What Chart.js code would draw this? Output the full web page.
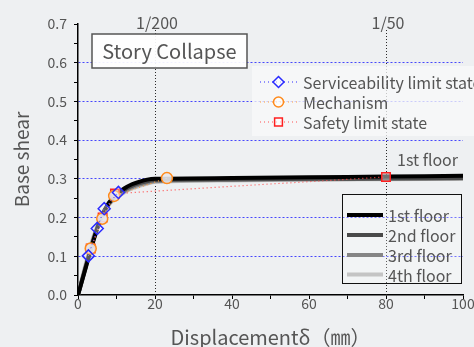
<!DOCTYPE html>
<html>
<head>
<meta charset="utf-8">
<script src="https://cdn.jsdelivr.net/npm/chart.js@4.4.1/dist/chart.umd.min.js"></script>
<style>
  html, body { margin: 0; padding: 0; background: #eef0f2; }
  #wrap { width: 474px; height: 347px; }
</style>
</head>
<body>
<div id="wrap"><canvas id="chart" width="474" height="347"></canvas></div>
<script>
// displacement (mm) and base shear for each floor
var disp   = [0, 2, 4, 6, 8, 10, 12, 14, 16, 18, 20, 40, 60, 80, 100];
var floor1 = [0, 0.07, 0.14, 0.20, 0.238, 0.260, 0.275, 0.286, 0.293, 0.298, 0.300, 0.302, 0.304, 0.306, 0.308];
var floor2 = [0, 0.072, 0.142, 0.199, 0.236, 0.258, 0.272, 0.282, 0.289, 0.294, 0.297, 0.299, 0.300, 0.301, 0.302];
var floor3 = [0, 0.075, 0.145, 0.200, 0.235, 0.255, 0.268, 0.278, 0.285, 0.290, 0.294, 0.297, 0.299, 0.300, 0.301];
var floor4 = [0, 0.080, 0.150, 0.200, 0.233, 0.252, 0.265, 0.275, 0.282, 0.288, 0.292, 0.296, 0.298, 0.299, 0.300];

// limit-state points
var svcX  = [2.7, 5.0, 6.8, 10.5];
var svcY  = [0.101, 0.172, 0.223, 0.265];
var mechX = [3.3, 6.3, 9.4, 23.1];
var mechY = [0.120, 0.197, 0.256, 0.302];
var safeX = [3.3, 6.4, 9.6, 80];
var safeY = [0.120, 0.200, 0.262, 0.305];

// drift angle markers along the top
var driftVals   = [20, 80];
var driftLabels = ['1/200', '1/50'];

var floorNames = ['1st floor', '2nd floor', '3rd floor', '4th floor'];
var floorColors = ['#000000', '#4a4a4a', '#858585', '#c4c4c4'];
var stateNames = ['Serviceability limit state', 'Mechanism', 'Safety limit state'];

function pts(xs, ys) { return xs.map(function (x, i) { return {x: x, y: ys[i]}; }); }

var FONT = "'Noto Sans CJK JP', 'Noto Sans', sans-serif";
var TXT = '#555555';

var stateSets = [
  { label: stateNames[0], data: pts(svcX, svcY), showLine: true, borderColor: '#2a2aff', borderWidth: 1,
    borderDash: [1, 3], pointStyle: 'rectRot', pointRadius: 6, pointBorderWidth: 1.5,
    pointBorderColor: '#2a2aff', pointBackgroundColor: 'rgba(255,255,255,0.35)' },
  { label: stateNames[1], data: pts(mechX, mechY), showLine: true, borderColor: '#ffa040', borderWidth: 1.2,
    borderDash: [1, 3], pointStyle: 'circle', pointRadius: 5.5, pointBorderWidth: 1.5,
    pointBorderColor: '#ff8a1c', pointBackgroundColor: 'rgba(232,232,236,0.9)' },
  { label: stateNames[2], data: pts(safeX, safeY), showLine: true, borderColor: '#ff5050', borderWidth: 1.2,
    borderDash: [1, 3], pointStyle: 'rect', pointRadius: 6, pointBorderWidth: 1.5,
    pointBorderColor: '#ff2020', pointBackgroundColor: 'rgba(190,190,190,0.6)' }
];

var floorData = [floor1, floor2, floor3, floor4];
var floorSets = floorData.map(function (ys, i) {
  return { label: floorNames[i], data: pts(disp, ys), showLine: true, borderColor: floorColors[i], borderWidth: 4,
    pointRadius: 0, cubicInterpolationMode: 'monotone', fill: false };
});

// drift-angle guide lines, legends and annotations
var overlay = {
  id: 'overlay',
  beforeDatasetsDraw: function (chart) {
    var ctx = chart.ctx, a = chart.chartArea, sx = chart.scales.x;
    ctx.save();
    ctx.fillStyle = '#2a2a2a';
    driftVals.forEach(function (v) {
      var px = Math.round(sx.getPixelForValue(v));
      for (var yy = Math.round(a.top) + 6; yy < a.bottom; yy += 3) {
        ctx.fillRect(px, yy, 1, 1);
      }
    });
    ctx.fillStyle = TXT;
    ctx.font = '16px ' + FONT;
    ctx.textAlign = 'center';
    ctx.textBaseline = 'middle';
    driftVals.forEach(function (v, i) {
      ctx.fillText(driftLabels[i], sx.getPixelForValue(v) + 2, 23);
    });
    ctx.restore();
  },
  afterDatasetsDraw: function (chart) {
    var ctx = chart.ctx;
    ctx.save();
    ctx.textBaseline = 'middle';

    // title box
    ctx.fillStyle = 'rgba(255,255,255,0.92)';
    ctx.fillRect(92, 34, 155, 34);
    ctx.strokeStyle = '#555';
    ctx.lineWidth = 1.5;
    ctx.strokeRect(92, 34, 155, 34);
    ctx.fillStyle = TXT;
    ctx.font = '20px ' + FONT;
    ctx.textAlign = 'center';
    ctx.fillText('Story Collapse', 169.5, 51.5);

    // limit state legend
    ctx.fillStyle = 'rgba(248,249,250,0.75)';
    ctx.fillRect(252, 66, 222, 70);
    ctx.textAlign = 'left';
    ctx.font = '16px ' + FONT;
    var rows = [82, 102, 122];
    stateSets.forEach(function (ds, i) {
      var y = rows[i];
      ctx.save();
      ctx.strokeStyle = ds.borderColor;
      ctx.lineWidth = 1.2;
      ctx.setLineDash([1, 3]);
      ctx.beginPath(); ctx.moveTo(260, y); ctx.lineTo(297, y); ctx.stroke();
      ctx.restore();
      ctx.strokeStyle = ds.pointBorderColor;
      ctx.fillStyle = 'rgba(255,255,255,0.6)';
      ctx.lineWidth = 1.5;
      Chart.helpers.drawPoint(ctx, { pointStyle: ds.pointStyle, radius: ds.pointRadius - 0.5, borderWidth: 1.5 }, 278.5, y);
      ctx.fillStyle = TXT;
      ctx.fillText(ds.label, 303, y + 1);
    });

    // floor label
    ctx.textAlign = 'right';
    ctx.fillText(floorNames[0], 458, 160);

    // floor legend
    ctx.fillStyle = 'rgba(255,255,255,0.25)';
    ctx.fillRect(342, 194, 120, 90);
    ctx.strokeStyle = '#111';
    ctx.lineWidth = 1;
    ctx.strokeRect(342.5, 194.5, 119, 89);
    ctx.textAlign = 'left';
    var frows = [215, 235, 255, 274.5];
    floorSets.forEach(function (ds, i) {
      ctx.strokeStyle = ds.borderColor;
      ctx.lineWidth = 4;
      ctx.beginPath(); ctx.moveTo(347, frows[i]); ctx.lineTo(383, frows[i]); ctx.stroke();
      ctx.fillStyle = TXT;
      ctx.fillText(ds.label, 388, frows[i] + 1);
    });
    ctx.restore();
  }
};

new Chart(document.getElementById('chart'), {
  type: 'scatter',
  data: { datasets: stateSets.concat(floorSets) },
  plugins: [overlay],
  options: {
    responsive: false,
    animation: false,
    layout: { padding: { top: 24, right: 11, bottom: 0, left: 0 } },
    plugins: { legend: { display: false }, tooltip: { enabled: false } },
    scales: {
      x: {
        type: 'linear', position: 'bottom', min: 0, max: 100,
        afterFit: function (s) { s.height = 52; },
        ticks: { stepSize: 10, padding: -4, color: TXT, font: { family: FONT, size: 14 },
          maxRotation: 0, autoSkip: false,
          callback: function (v) { return v % 20 === 0 ? String(v) : ''; } },
        grid: { drawOnChartArea: false, tickColor: '#000', tickLength: 4, tickWidth: 1 },
        border: { color: '#000', width: 1.5 },
        title: { display: true, text: 'Displacementδ（㎜）', color: TXT,
          font: { family: FONT, size: 20 }, padding: { top: 0, bottom: -2 } }
      },
      y: {
        min: 0, max: 0.7,
        afterFit: function (s) { s.width = 78; },
        ticks: { stepSize: 0.05, padding: 7, color: TXT, font: { family: FONT, size: 14 }, autoSkip: false,
          callback: function (v) { return Math.round(v * 100) % 10 === 0 ? v.toFixed(1) : ''; } },
        grid: {
          color: function (c) {
            var k = Math.round(c.tick.value * 100);
            return (k % 10 === 0 && k > 0 && k < 70) ? 'rgba(40,40,255,0.85)' : 'rgba(0,0,0,0)';
          },
          lineWidth: 1, tickColor: '#000', tickLength: 4, tickWidth: 1
        },
        border: { color: '#000', width: 1.5, dash: [2, 2] },
        title: { display: true, text: 'Base shear', color: TXT,
          font: { family: FONT, size: 19 }, padding: { top: 10, bottom: 0 } }
      }
    }
  }
});
</script>
</body>
</html>
